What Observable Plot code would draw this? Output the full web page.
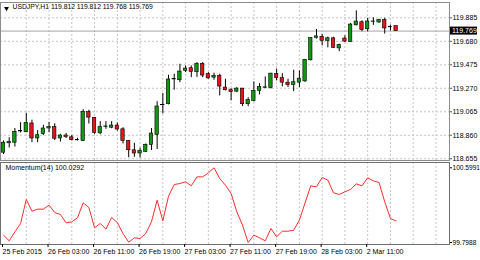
<!DOCTYPE html>
<html>
<head>
<meta charset="utf-8">
<script src="https://cdn.jsdelivr.net/npm/d3@7"></script>
<script src="https://cdn.jsdelivr.net/npm/@observablehq/plot@0.6"></script>
<style>
  html, body { margin: 0; padding: 0; background: #fff; }
  #chart { position: relative; width: 480px; height: 260px; overflow: hidden; background: #fff; }
  #chart > div, #chart > svg { position: absolute; left: 0; }
</style>
</head>
<body>
<div id="chart"></div>
<script>
// ---- data (USDJPY, H1) ----
const symbolTitle = "USDJPY,H1";
const lastOHLC = [119.812, 119.812, 119.768, 119.769];
const openP  = [118.708,118.790,118.795,118.893,118.886,118.963,118.832,118.871,118.919,118.931,
                118.832,118.858,118.842,118.816,118.810,119.062,119.011,118.877,118.933,118.926,
                118.945,118.912,118.810,118.729,118.701,118.715,118.775,118.862,119.122,119.131,
                119.347,119.340,119.422,119.445,119.410,119.483,119.393,119.363,119.378,119.276,
                119.253,119.241,119.267,119.131,119.160,119.247,119.274,119.271,119.393,119.358,
                119.319,119.297,119.319,119.330,119.514,119.708,119.719,119.684,119.706,119.618,
                119.704,119.675,119.819,119.846,119.785,119.850,119.844,119.865,119.802,119.812];
const highP  = [118.810,118.839,118.919,118.970,119.052,118.992,118.902,118.947,118.973,118.961,
                118.868,118.875,118.858,118.834,119.083,119.078,119.013,118.979,118.979,118.979,
                118.967,118.926,118.814,118.790,118.747,118.784,118.919,119.153,119.225,119.384,
                119.393,119.480,119.465,119.465,119.494,119.494,119.407,119.402,119.393,119.349,
                119.267,119.276,119.269,119.188,119.326,119.311,119.369,119.400,119.437,119.398,
                119.349,119.428,119.422,119.522,119.710,119.783,119.741,119.716,119.715,119.655,
                119.728,119.835,119.946,119.859,119.881,119.885,119.872,119.881,119.822,119.812];
const lowP   = [118.692,118.749,118.757,118.880,118.882,118.795,118.795,118.858,118.882,118.814,
                118.801,118.832,118.810,118.810,118.806,118.958,118.868,118.865,118.912,118.917,
                118.897,118.784,118.664,118.668,118.660,118.709,118.727,118.736,119.046,119.125,
                119.253,119.319,119.407,119.363,119.365,119.363,119.349,119.340,119.203,119.247,
                119.160,119.232,119.110,119.110,119.151,119.212,119.267,119.264,119.334,119.282,
                119.276,119.241,119.276,119.321,119.509,119.699,119.640,119.623,119.618,119.590,
                119.669,119.671,119.815,119.763,119.763,119.819,119.837,119.743,119.771,119.768];
const closeP = [118.795,118.801,118.889,118.899,118.967,118.832,118.860,118.919,118.931,118.830,
                118.858,118.845,118.817,118.820,119.065,119.014,118.880,118.932,118.937,118.945,
                118.910,118.810,118.729,118.701,118.725,118.777,118.875,119.111,119.125,119.347,
                119.351,119.416,119.442,119.413,119.483,119.381,119.356,119.378,119.285,119.253,
                119.236,119.267,119.131,119.168,119.247,119.282,119.278,119.398,119.358,119.319,
                119.297,119.323,119.354,119.518,119.708,119.723,119.684,119.706,119.623,119.646,
                119.677,119.826,119.852,119.778,119.853,119.853,119.865,119.792,119.805,119.769];
const momentum = [99.877,99.817,99.913,100.002,100.260,100.134,100.156,100.156,100.199,100.120,
                  100.099,100.010,100.020,100.063,100.224,100.174,99.956,100.002,99.942,100.067,
                  100.013,99.895,99.803,99.849,99.842,99.895,100.020,100.252,100.031,100.295,
                  100.420,100.431,100.449,100.406,100.502,100.502,100.545,100.5991,100.484,100.413,
                  100.324,100.127,99.984,99.7988,99.877,99.849,99.817,99.949,99.860,99.920,
                  99.920,99.931,100.038,100.224,100.406,100.395,100.495,100.467,100.331,100.313,
                  100.342,100.367,100.427,100.406,100.492,100.459,100.442,100.234,100.056,100.0292];
const momentumTitle = "Momentum(14) 100.0292";
const priceTicks = [119.885, 119.680, 119.475, 119.270, 119.065, 118.860, 118.655];
const momTicks = [100.5991, 99.7988];
const gridIdx = [4,8,12,16,20,24,28,32,36,40,44,48,52,56,60,64,68,72,76];
const timeTickIdx = [0, 8, 16, 24, 32, 40, 48, 56, 64];
const timeTickLabels = ["25 Feb 2015","26 Feb 03:00","26 Feb 11:00","26 Feb 19:00","27 Feb 03:00",
                        "27 Feb 11:00","27 Feb 19:00","28 Feb 03:00","2 Mar 11:00"];

// ---- build ----
const candles = openP.map((o, i) => ({i, o, h: highP[i], l: lowP[i], c: closeP[i]}));
const up = candles.filter(d => d.c >= d.o);
const down = candles.filter(d => d.c < d.o);
const lastClose = lastOHLC[3];

const font = "'Liberation Sans', Arial, sans-serif";
const xDomain = [-0.53, 78.38];
const gridStyle = {stroke: "#c4c4c4", strokeDasharray: "2,2", strokeWidth: 1};
const green = "#0c9a0c", red = "#e8121a";

const main = Plot.plot({
  width: 480, height: 160,
  marginLeft: 0, marginRight: 31, marginTop: 2, marginBottom: 0,
  style: {fontFamily: font, fontSize: "7px", background: "transparent", color: "#000", overflow: "visible"},
  x: {domain: xDomain, axis: null},
  y: {domain: [118.6398, 120.0185], axis: null},
  marks: [
    Plot.ruleY(priceTicks, gridStyle),
    Plot.ruleX(gridIdx, gridStyle),
    Plot.ruleY([lastClose], {stroke: "#a6a6a6", strokeWidth: 1}),
    Plot.ruleX(candles, {x: "i", y1: "l", y2: "h", stroke: "#000", strokeWidth: 1}),
    Plot.rect(up, {x1: d => d.i - 0.3, x2: d => d.i + 0.3, y1: "o", y2: "c", fill: green, stroke: "#000", strokeWidth: 0.6}),
    Plot.rect(down, {x1: d => d.i - 0.3, x2: d => d.i + 0.3, y1: "o", y2: "c", fill: red, stroke: "#000", strokeWidth: 0.6}),
    Plot.frame({stroke: "#8c8c8c"}),
    Plot.axisY({anchor: "right", ticks: priceTicks, tickFormat: d => d.toFixed(3), tickSize: 2, tickPadding: 1, fontSize: 7, stroke: "#555"}),
    Plot.dot([0], {frameAnchor: "top-left", dx: 6, dy: 6, symbol: "triangle", rotate: 180, r: 1.8, fill: "#000", stroke: null}),
    Plot.text([symbolTitle + " " + lastOHLC.map(v => v.toFixed(3)).join(" ")],
              {frameAnchor: "top-left", dx: 12, dy: 2, text: d => d, fill: "#000", fontSize: 6.8})
  ]
});

const mom = Plot.plot({
  width: 480, height: 100,
  marginLeft: 0, marginRight: 31, marginTop: 2, marginBottom: 16,
  style: {fontFamily: font, fontSize: "7px", background: "transparent", color: "#000", overflow: "visible"},
  x: {domain: xDomain, axis: null},
  y: {domain: [99.7774, 100.6559], axis: null},
  marks: [
    Plot.ruleX(gridIdx, gridStyle),
    Plot.lineY(momentum, {x: (d, i) => i, y: d => d, stroke: "#ff2b2b", strokeWidth: 1}),
    Plot.frame({stroke: "#6e6e6e"}),
    Plot.axisY({anchor: "right", ticks: momTicks, tickFormat: d => d.toFixed(4), tickSize: 2, tickPadding: 1, fontSize: 6.6}),
    Plot.axisX({anchor: "bottom", ticks: timeTickIdx, tickFormat: d => timeTickLabels[timeTickIdx.indexOf(d)],
                textAnchor: "start", tickSize: 3, tickPadding: 2, fontSize: 7, dx: -1}),
    Plot.text([momentumTitle], {frameAnchor: "top-left", dx: 5, dy: 3, text: d => d, fill: "#000", fontSize: 7})
  ]
});

const root = document.getElementById("chart");
main.style.top = "0px";
mom.style.top = "160px";
root.appendChild(main);
root.appendChild(mom);

// current price marker on the right price scale
const yS = main.scale("y");
const yc = yS.apply(lastClose);
const g = d3.select(main).append("g");
g.append("rect").attr("x", 450).attr("y", yc - 4).attr("width", 27).attr("height", 8)
  .attr("fill", "#000").attr("stroke", "none");
g.append("text").attr("x", 452).attr("y", yc).attr("dy", "0.34em")
  .attr("text-anchor", "start").attr("fill", "#fff").attr("stroke", "none")
  .attr("font-size", 7).attr("font-family", font).text(lastClose.toFixed(3));
</script>
</body>
</html>
